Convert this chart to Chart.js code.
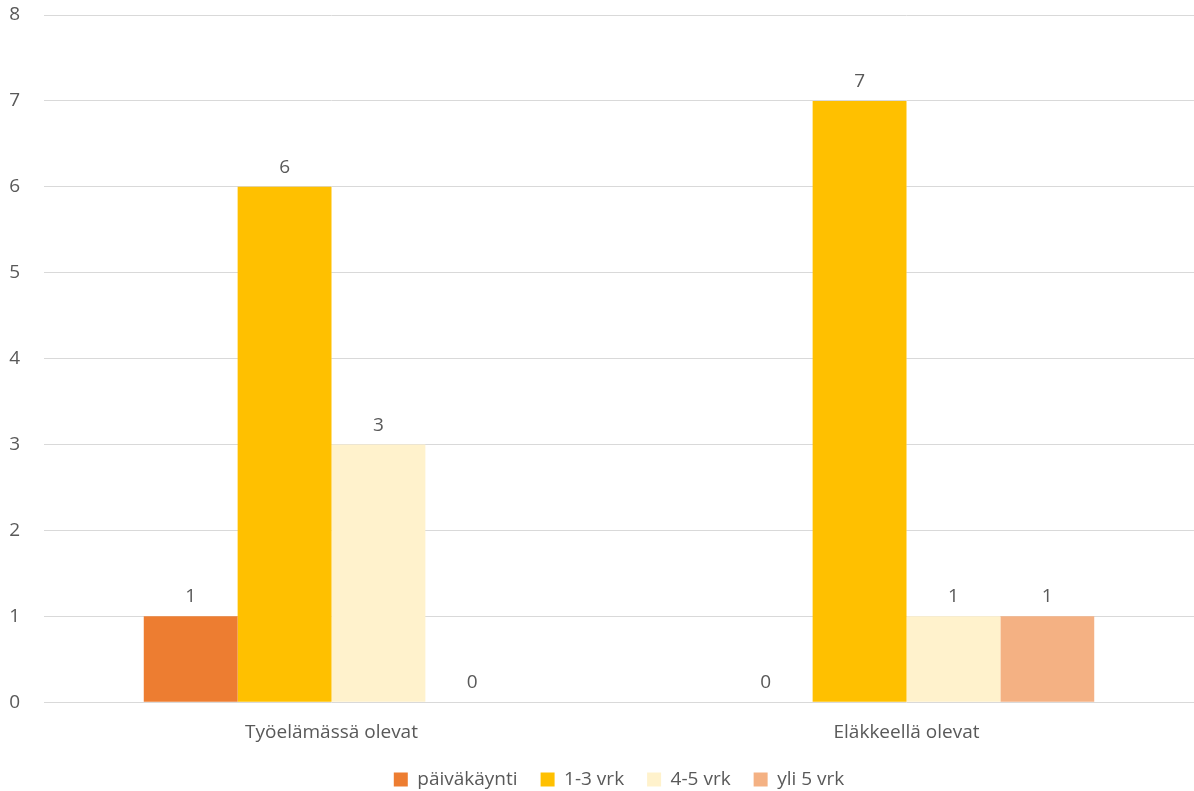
<!DOCTYPE html>
<html>
<head>
<meta charset="utf-8">
<script src="https://cdn.jsdelivr.net/npm/chart.js@4/dist/chart.umd.min.js"></script>
<style>
  html, body { margin: 0; padding: 0; background: #ffffff; }
  #wrap { width: 1194px; height: 791px; position: relative; }
</style>
</head>
<body>
<div id="wrap"><canvas id="chart"></canvas></div>
<script>
// Groups on the x axis
const categories = ["Työelämässä olevat", "Eläkkeellä olevat"];

// Series values per group
const paivakaynti = [1, 0];
const vrk1to3 = [6, 7];
const vrk4to5 = [3, 1];
const yli5vrk = [0, 1];

const seriesNames = ["päiväkäynti", "1-3 vrk", "4-5 vrk", "yli 5 vrk"];
const seriesColors = ["#ED7D31", "#FFC000", "#FFF2CC", "#F4B183"];

// Value axis ticks
const yTicks = [0, 1, 2, 3, 4, 5, 6, 7, 8];

const textColor = "#595959";
const fontFamily = "'Open Sans', 'Liberation Sans', sans-serif";
const fontSize = 19;

// Prints each bar's value just above its top
const valueLabels = {
  id: "valueLabels",
  afterDatasetsDraw(chart) {
    const ctx = chart.ctx;
    ctx.save();
    ctx.font = fontSize + "px " + fontFamily;
    ctx.fillStyle = textColor;
    ctx.textAlign = "center";
    ctx.textBaseline = "alphabetic";
    chart.data.datasets.forEach((ds, i) => {
      const meta = chart.getDatasetMeta(i);
      meta.data.forEach((bar, j) => {
        ctx.fillText(String(ds.data[j]), bar.x, bar.y - 14);
      });
    });
    ctx.restore();
  }
};

const dataSeries = [paivakaynti, vrk1to3, vrk4to5, yli5vrk];

new Chart(document.getElementById("chart"), {
  type: "bar",
  data: {
    labels: categories,
    datasets: dataSeries.map((d, i) => ({
      label: seriesNames[i],
      data: d,
      backgroundColor: seriesColors[i],
      borderWidth: 0,
      barPercentage: 1.0,
      categoryPercentage: 0.653
    }))
  },
  options: {
    responsive: true,
    maintainAspectRatio: false,
    animation: false,
    layout: { padding: { left: 0, right: 0, top: 15, bottom: -8 } },
    plugins: {
      legend: {
        position: "bottom",
        fullSize: false,
        labels: {
          boxWidth: 14,
          boxHeight: 14,
          padding: 23,
          color: textColor,
          font: { family: fontFamily, size: fontSize }
        }
      },
      tooltip: { enabled: false }
    },
    scales: {
      x: {
        grid: { display: false },
        border: { display: false },
        afterFit(axis) {
          axis.height -= 8;
        },
        ticks: {
          color: textColor,
          font: { family: fontFamily, size: fontSize },
          padding: 11
        }
      },
      y: {
        min: yTicks[0],
        max: yTicks[yTicks.length - 1],
        afterBuildTicks(axis) {
          axis.ticks = yTicks.map(v => ({ value: v }));
        },
        afterFit(axis) {
          axis.width = 44;
          axis.paddingTop = 0;
          axis.paddingBottom = 0;
        },
        grid: { color: "#D9D9D9", drawTicks: false, lineWidth: 1 },
        border: { display: false },
        ticks: {
          color: textColor,
          font: { family: fontFamily, size: fontSize },
          padding: 24
        }
      }
    }
  },
  plugins: [valueLabels]
});
</script>
</body>
</html>
